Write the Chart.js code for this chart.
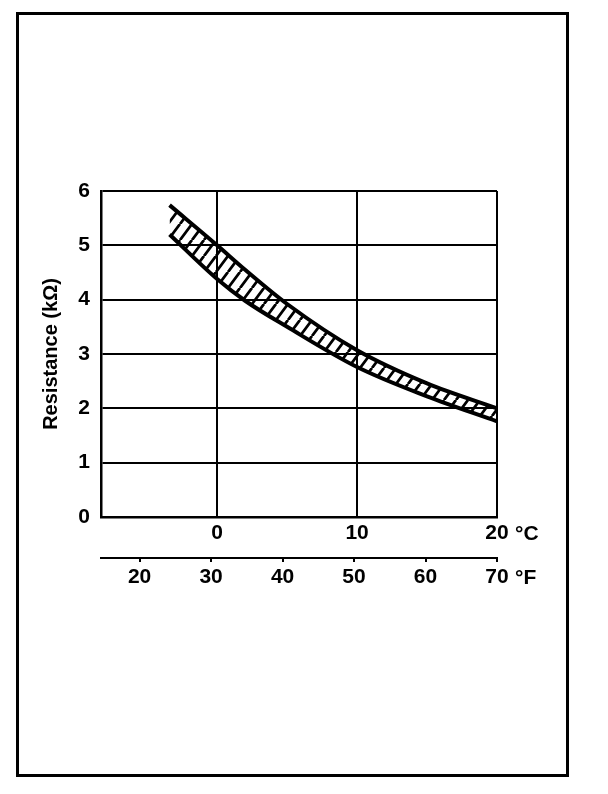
<!DOCTYPE html>
<html><head><meta charset="utf-8">
<script src="https://cdn.jsdelivr.net/npm/chart.js@4.4.0/dist/chart.umd.min.js"></script>
<style>
html,body{margin:0;padding:0;background:#fff;}
#wrap{position:relative;width:608px;height:794px;overflow:hidden;}
#frame{position:absolute;left:16px;top:12px;width:547px;height:759px;border:3px solid #000;}
canvas{position:absolute;left:0;top:0;}
</style></head><body>
<div id="wrap"><div id="frame"></div><canvas id="c" width="608" height="794"></canvas></div>
<script>
// Data
const tempC = [-3.4, 0, 2, 5, 10, 15, 20];
const upperK = [5.74, 5.0, 4.55, 3.92, 3.07, 2.46, 2.0];
const lowerK = [5.2, 4.38, 3.98, 3.5, 2.76, 2.22, 1.76];
const celsiusTicks = [0, 10, 20];
const fahrenheitTicks = [20, 30, 40, 50, 60, 70];
const resistanceTicks = [0, 1, 2, 3, 4, 5, 6];
const yTitle = 'Resistance (kΩ)';
const unitC = '°C';
const unitF = '°F';

const FONT = '"Liberation Sans", Arial, Helvetica, sans-serif';

function hatchPattern() {
  const w = 12, h = 16;
  const c = document.createElement('canvas');
  c.width = w; c.height = h;
  const g = c.getContext('2d');
  g.strokeStyle = '#000';
  g.lineWidth = 2.8;
  g.beginPath();
  for (const dx of [-w, 0, w]) { g.moveTo(dx, h); g.lineTo(dx + w, 0); }
  g.stroke();
  return c.getContext('2d').createPattern(c, 'repeat');
}

const unitPlugin = {
  id: 'units',
  afterDraw(chart) {
    const ctx = chart.ctx;
    const sx = chart.scales.x, sf = chart.scales.xf;
    ctx.save();
    ctx.font = 'bold 21px ' + FONT;
    ctx.fillStyle = '#000';
    ctx.textAlign = 'left';
    ctx.textBaseline = 'middle';
    ctx.fillText(unitC, sx.right + 18, sx.top + 5 + 12.6);
    ctx.fillText(unitF, sf.right + 18, sf.top + 4 + 4 + 12.6);
    ctx.restore();
  }
};

const toPts = (ys) => tempC.map((t, i) => ({ x: t, y: ys[i] }));

const tickFont = { family: FONT, size: 21, weight: 'bold' };

new Chart(document.getElementById('c'), {
  type: 'line',
  data: {
    datasets: [
      { data: toPts(upperK), borderColor: '#000', borderWidth: 4, pointRadius: 0,
        cubicInterpolationMode: 'monotone', fill: '+1', backgroundColor: hatchPattern() },
      { data: toPts(lowerK), borderColor: '#000', borderWidth: 4, pointRadius: 0,
        cubicInterpolationMode: 'monotone', fill: false }
    ]
  },
  options: {
    responsive: false,
    animation: false,
    devicePixelRatio: 1,
    layout: { padding: { left: 0, top: 191, right: 111, bottom: 196 } },
    plugins: { legend: { display: false }, tooltip: { enabled: false } },
    scales: {
      x: {
        type: 'linear', position: 'bottom', min: -8.3, max: 20, weight: 0,
        afterBuildTicks: (s) => { s.ticks = celsiusTicks.map(v => ({ value: v })); },
        afterFit: (s) => { s.height = 41; },
        grid: { color: '#000', lineWidth: 2, drawTicks: false },
        border: { color: '#000', width: 2.5 },
        ticks: { color: '#000', font: tickFont, padding: 4, autoSkip: false, maxRotation: 0,
                 callback: (v) => String(v) }
      },
      xf: {
        type: 'linear', position: 'bottom', min: 14.6, max: 70, weight: 1,
        afterBuildTicks: (s) => { s.ticks = fahrenheitTicks.map(v => ({ value: v })); },
        afterFit: (s) => { s.height = 40; },
        grid: { drawOnChartArea: false, color: '#000', lineWidth: 2, drawTicks: true, tickLength: 4 },
        border: { color: '#000', width: 2 },
        ticks: { color: '#000', font: tickFont, padding: 3, autoSkip: false, maxRotation: 0,
                 callback: (v) => String(v) }
      },
      y: {
        type: 'linear', position: 'left', min: 0, max: 6,
        afterBuildTicks: (s) => { s.ticks = resistanceTicks.map(v => ({ value: v })); },
        afterFit: (s) => { s.width = 101; },
        grid: { color: '#000', lineWidth: 2, drawTicks: false },
        border: { color: '#000', width: 2.5 },
        ticks: { color: '#000', font: tickFont, padding: 11, callback: (v) => String(v) },
        title: { display: true, text: yTitle, color: '#000', font: { family: FONT, size: 20, weight: 'bold' },
                 padding: { top: 39, bottom: 0 } }
      }
    }
  },
  plugins: [unitPlugin]
});
</script>
</body></html>
